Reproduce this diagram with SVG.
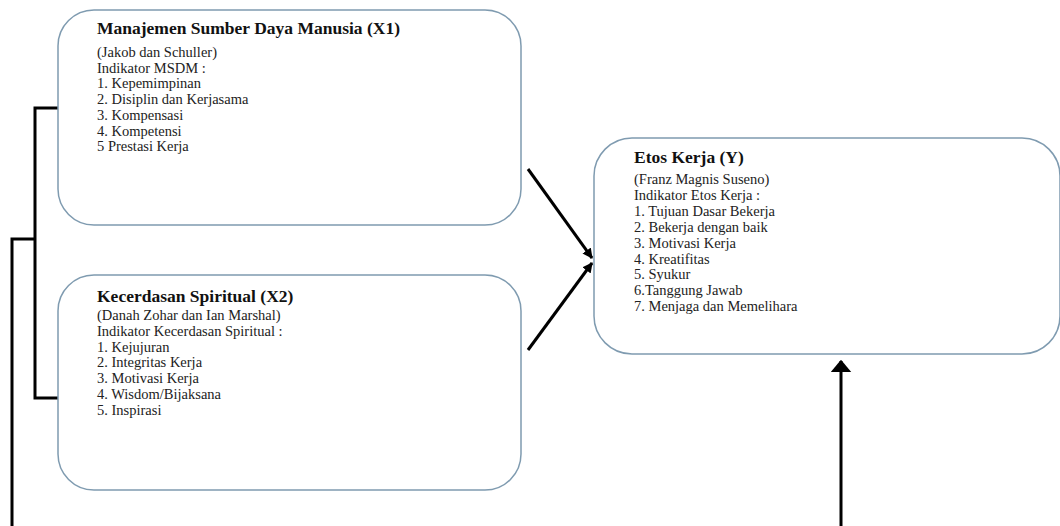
<svg xmlns="http://www.w3.org/2000/svg" width="1060" height="526" viewBox="0 0 1060 526">
<style>
.box{fill:#fff;stroke:#7f9bb0;stroke-width:1.5}
.t{font-family:"Liberation Serif","Times New Roman",serif;font-size:17.5px;font-weight:bold;fill:#111}
.b{font-family:"Liberation Serif","Times New Roman",serif;font-size:14.5px;fill:#222}
.c{fill:none;stroke:#000;stroke-width:3}
</style>
<defs>
<marker id="ah" viewBox="0 0 10 10" refX="9" refY="5" markerWidth="3.4" markerHeight="3.4" orient="auto" markerUnits="strokeWidth">
<path d="M0,0 L10,5 L0,10 z" fill="#000"/>
</marker>
<marker id="ahb" viewBox="0 0 10 10" refX="9" refY="5" markerWidth="4.2" markerHeight="7" orient="auto" markerUnits="strokeWidth" preserveAspectRatio="none">
<path d="M0,0 L10,5 L0,10 z" fill="#000"/>
</marker>
</defs>
<rect width="1060" height="526" fill="#fff"/>
<g id="connectors">
<polyline class="c" points="58,108 35,108 35,398 58,398"/>
<polyline class="c" points="35,239 12,239 12,526"/>
<line class="c" x1="528" y1="169" x2="592" y2="258" marker-end="url(#ah)"/>
<line class="c" x1="528" y1="350" x2="592" y2="263" marker-end="url(#ah)"/>
<line class="c" x1="841" y1="526" x2="841" y2="361" marker-end="url(#ahb)"/>
</g>
<g id="x1">
<rect class="box" x="58" y="10" width="463" height="215" rx="36" ry="36"/>
<text class="t" x="97" y="34">Manajemen Sumber Daya Manusia (X1)</text>
<text class="b" x="97" y="57">(Jakob dan Schuller)</text>
<text class="b" x="97" y="72.7">Indikator MSDM :</text>
<text class="b" x="97" y="88.4">1. Kepemimpinan</text>
<text class="b" x="97" y="104.1">2. Disiplin dan Kerjasama</text>
<text class="b" x="97" y="119.8">3. Kompensasi</text>
<text class="b" x="97" y="135.5">4. Kompetensi</text>
<text class="b" x="97" y="151.2">5 Prestasi Kerja</text>
</g>
<g id="x2">
<rect class="box" x="58" y="275" width="463" height="215" rx="36" ry="36"/>
<text class="t" x="97" y="302">Kecerdasan Spiritual (X2)</text>
<text class="b" x="97" y="320">(Danah Zohar dan Ian Marshal)</text>
<text class="b" x="97" y="335.8">Indikator Kecerdasan Spiritual :</text>
<text class="b" x="97" y="351.6">1. Kejujuran</text>
<text class="b" x="97" y="367.4">2. Integritas Kerja</text>
<text class="b" x="97" y="383.2">3. Motivasi Kerja</text>
<text class="b" x="97" y="399">4. Wisdom/Bijaksana</text>
<text class="b" x="97" y="414.8">5. Inspirasi</text>
</g>
<g id="y">
<rect class="box" x="594" y="138" width="466" height="216" rx="38" ry="38"/>
<text class="t" x="634" y="163">Etos Kerja (Y)</text>
<text class="b" x="634" y="184">(Franz Magnis Suseno)</text>
<text class="b" x="634" y="199.9">Indikator Etos Kerja :</text>
<text class="b" x="634" y="215.8">1. Tujuan Dasar Bekerja</text>
<text class="b" x="634" y="231.7">2. Bekerja dengan baik</text>
<text class="b" x="634" y="247.6">3. Motivasi Kerja</text>
<text class="b" x="634" y="263.5">4. Kreatifitas</text>
<text class="b" x="634" y="279.4">5. Syukur</text>
<text class="b" x="634" y="295.3">6.Tanggung Jawab</text>
<text class="b" x="634" y="311.2">7. Menjaga dan Memelihara</text>
</g>
</svg>
